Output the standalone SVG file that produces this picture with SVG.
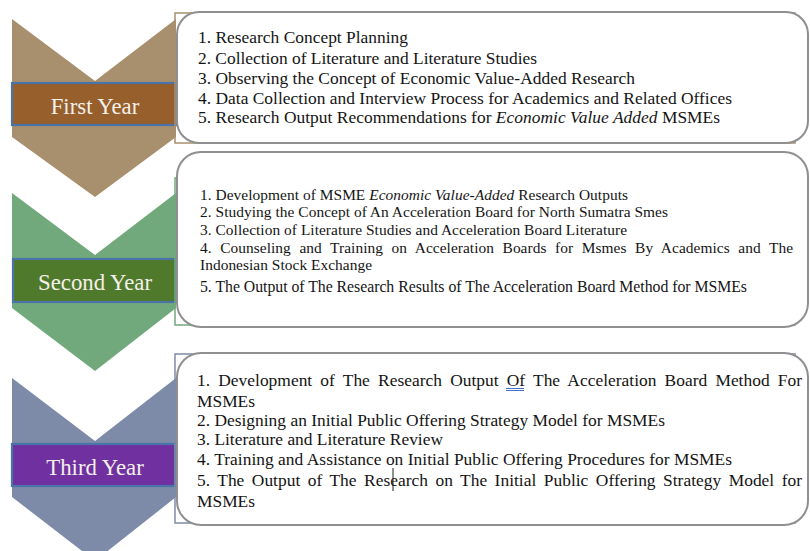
<svg xmlns="http://www.w3.org/2000/svg" width="810" height="551" viewBox="0 0 810 551">
<style>
.bg{fill:#ffffff}
.card{fill:#ffffff;stroke:#8f8f8f;stroke-width:2}
.lbl{stroke:#4a74a8;stroke-width:2.2}
.yr{font-family:'Liberation Serif','DejaVu Serif',serif;font-size:22.8px;fill:#f4f0ea;text-anchor:middle}
.t{font-family:'Liberation Serif','DejaVu Serif',serif;font-size:17.4px;fill:#141414}
.s{font-family:'Liberation Serif','DejaVu Serif',serif;font-size:15.4px;fill:#141414}
.m{font-family:'Liberation Serif','DejaVu Serif',serif;font-size:15.8px;fill:#141414}
.i{font-style:italic}
</style>
<rect class="bg" x="0" y="0" width="810" height="551"/>
<g id="connectors"></g>

<g id="year1">
<polygon points="12,19 95,81 176,19 176,137 95,197 12,137" fill="#a8906e"/>
<rect class="lbl" x="12" y="83" width="164" height="42" fill="#965f2c"/>
<text class="yr" x="95" y="114">First Year</text>
</g>

<g id="year2">
<polygon points="12,193 95,255 176,193 176,308 95,371 12,308" fill="#72a97c"/>
<rect class="lbl" x="13" y="259" width="163" height="43" fill="#4f7a2b"/>
<text class="yr" x="95" y="290">Second Year</text>
</g>

<g id="year3">
<polygon points="12,378 95,441 176,378 176,497 95,561 12,497" fill="#7d8ba9"/>
<rect class="lbl" x="12" y="444" width="163" height="42" fill="#7030a0"/>
<text class="yr" x="95" y="475">Third Year</text>
</g>

<g id="box1">
<rect x="175" y="13" width="620" height="130" fill="none" stroke="#a8906e" stroke-width="1.5"/>
<rect class="card" x="177" y="12" width="631" height="131" rx="22" ry="22"/>
<text class="t" x="198" y="43" textLength="210" lengthAdjust="spacing">1. Research Concept Planning</text>
<text class="t" x="198" y="64" textLength="339" lengthAdjust="spacing">2. Collection of Literature and Literature Studies</text>
<text class="t" x="198" y="84" textLength="437" lengthAdjust="spacing">3. Observing the Concept of Economic Value-Added Research</text>
<text class="t" x="198" y="104" textLength="534" lengthAdjust="spacing">4. Data Collection and Interview Process for Academics and Related Offices</text>
<text class="t" x="198" y="123" textLength="522" lengthAdjust="spacing">5. Research Output Recommendations for <tspan class="i">Economic Value Added</tspan> MSMEs</text>
</g>

<g id="box2">
<rect x="175" y="178" width="620" height="147" fill="none" stroke="#72a97c" stroke-width="1.5"/>
<rect class="card" x="177" y="152" width="631" height="175" rx="24" ry="24"/>
<text class="s" x="200" y="200" textLength="428" lengthAdjust="spacing">1. Development of MSME <tspan class="i">Economic Value-Added</tspan> Research Outputs</text>
<text class="s" x="200" y="217" textLength="468" lengthAdjust="spacing">2. Studying the Concept of An Acceleration Board for North Sumatra Smes</text>
<text class="s" x="200" y="235" textLength="427" lengthAdjust="spacing">3. Collection of Literature Studies and Acceleration Board Literature</text>
<text class="s" x="200" y="253" word-spacing="4.7" textLength="593" lengthAdjust="spacing">4. Counseling and Training on Acceleration Boards for Msmes By Academics and The</text>
<text class="s" x="200" y="270" textLength="172" lengthAdjust="spacing">Indonesian Stock Exchange</text>
<text class="m" x="200" y="292" textLength="547" lengthAdjust="spacing">5. The Output of The Research Results of The Acceleration Board Method for MSMEs</text>
</g>

<g id="box3">
<rect x="175" y="354" width="620" height="169" fill="none" stroke="#7d8ba9" stroke-width="1.5"/>
<rect class="card" x="177" y="353" width="631" height="172" rx="24" ry="24"/>
<text class="t" x="197" y="386" word-spacing="3.8" textLength="605" lengthAdjust="spacing">1. Development of The Research Output Of The Acceleration Board Method For</text>
<text class="t" x="197" y="407">MSMEs</text>
<text class="t" x="197" y="426" textLength="468" lengthAdjust="spacing">2. Designing an Initial Public Offering Strategy Model for MSMEs</text>
<text class="t" x="197" y="445" textLength="246" lengthAdjust="spacing">3. Literature and Literature Review</text>
<text class="t" x="197" y="465" textLength="535" lengthAdjust="spacing">4. Training and Assistance on Initial Public Offering Procedures for MSMEs</text>
<text class="t" x="197" y="486" word-spacing="3.1" textLength="605" lengthAdjust="spacing">5. The Output of The Research on The Initial Public Offering Strategy Model for</text>
<text class="t" x="197" y="507">MSMEs</text>
<line x1="506" y1="388.5" x2="524" y2="388.5" stroke="#4472c4" stroke-width="1"/>
<line x1="506" y1="390.5" x2="524" y2="390.5" stroke="#4472c4" stroke-width="1"/>
<line x1="393" y1="468" x2="393" y2="491" stroke="#222" stroke-width="1"/>
</g>
</svg>
